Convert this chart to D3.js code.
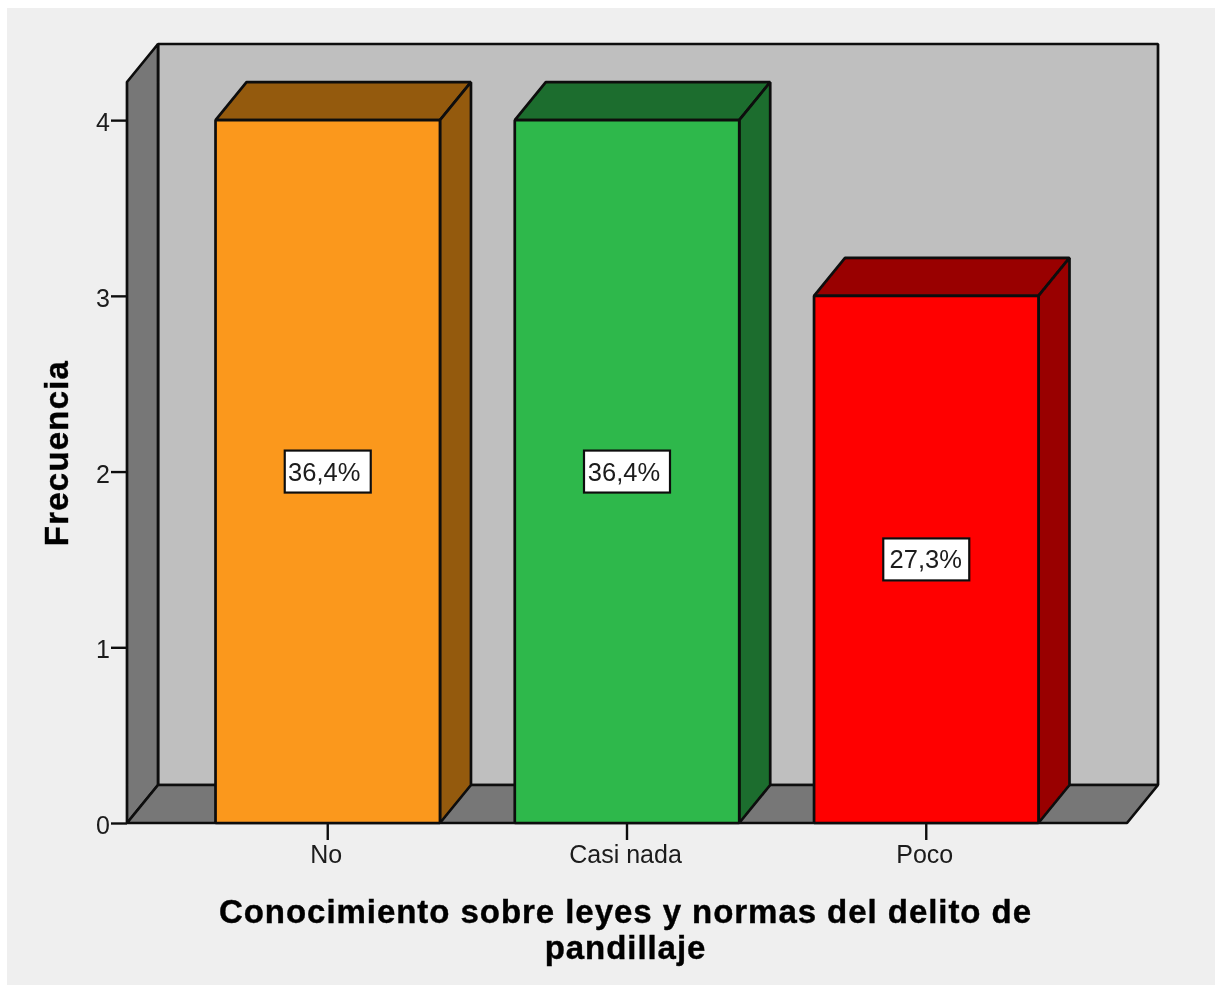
<!DOCTYPE html>
<html><head><meta charset="utf-8">
<style>html,body{margin:0;padding:0;background:#fff;overflow:hidden}svg{display:block}text{font-family:"Liberation Sans",Arial,sans-serif;fill:#1a1a1a}</style>
<script src="https://cdn.jsdelivr.net/npm/d3@7/dist/d3.min.js"></script>
</head><body><svg id="c" width="1215" height="985"></svg>
<script>
const categories = ["No", "Casi nada", "Poco"];
const frequencies = [4, 4, 3];
const percentLabels = ["36,4%", "36,4%", "27,3%"];
const labelShift = [-3.5, -3, -0.5];
const frontColors = ["#fb981f", "#2fb84b", "#ff0000"];
const sideColors = ["#945a11", "#1c6d2d", "#990000"];
const yTicks = [0, 1, 2, 3, 4];
const yTitle = "Frecuencia";
const xTitleLines = ["Conocimiento sobre leyes y normas del delito de", "pandillaje"];

const W = 1215, H = 985, dx = 31, dy = -38;
const x = d3.scaleBand().domain(categories).range([127, 1127]).paddingInner(0.25).paddingOuter(0.2958);
const y = d3.scaleLinear().domain([0, 4.217]).range([823, 82]);
const svg = d3.select("#c");
svg.append("defs").append("filter").attr("id", "soft").attr("x", 0).attr("y", 0).attr("width", 1).attr("height", 1)
  .append("feGaussianBlur").attr("stdDeviation", 0.7);
const root = svg.append("g").attr("filter", "url(#soft)");
root.append("rect").attr("width", W).attr("height", H).attr("fill", "#fff");
root.append("rect").attr("x", 7).attr("y", 8).attr("width", W - 7).attr("height", H - 8).attr("fill", "#efefef");

const [x0, x1] = x.range(), yb = y(0), yt = y.range()[1];
const poly = (pts, fill) => root.append("polygon").attr("points", pts.map(p => p.join(",")).join(" "))
  .attr("fill", fill).attr("stroke", "#0c0c0c").attr("stroke-width", 2.7).attr("stroke-linejoin", "bevel");
poly([[x0 + dx, yt + dy], [x1 + dx, yt + dy], [x1 + dx, yb + dy], [x0 + dx, yb + dy]], "#bfbfbf");
poly([[x0, yt], [x0 + dx, yt + dy], [x0 + dx, yb + dy], [x0, yb]], "#777777");
poly([[x0, yb], [x0 + dx, yb + dy], [x1 + dx, yb + dy], [x1, yb]], "#777777");

const yAxis = root.append("g").attr("transform", `translate(${x0},0)`).call(d3.axisLeft(y).tickValues(yTicks).tickFormat(d3.format("d")).tickSize(16).tickPadding(1));
yAxis.select(".domain").remove();
yAxis.selectAll("line").attr("stroke", "#111").attr("stroke-width", 2.4);
yAxis.selectAll("text").attr("font-size", 25).attr("dy", "0.42em");

categories.forEach((c, i) => {
  const l = x(c), r = l + x.bandwidth(), t = y(frequencies[i]);
  poly([[l, t], [l + dx, t + dy], [r + dx, t + dy], [r, t]], sideColors[i]);
  poly([[r, t], [r + dx, t + dy], [r + dx, yb + dy], [r, yb]], sideColors[i]);
  poly([[l, t], [r, t], [r, yb], [l, yb]], frontColors[i]);
});

const xAxis = root.append("g").attr("transform", `translate(0,${yb})`).call(d3.axisBottom(x).tickSize(17).tickPadding(5));
xAxis.select(".domain").remove();
xAxis.selectAll("line").attr("stroke", "#111").attr("stroke-width", 2.4);
xAxis.selectAll("text").attr("font-size", 25).attr("dx", -1.5);

categories.forEach((c, i) => {
  const cx = x(c) + x.bandwidth() / 2, cy = y(frequencies[i] / 2);
  root.append("rect").attr("x", cx - 43).attr("y", cy - 21).attr("width", 86).attr("height", 42)
    .attr("fill", "#fff").attr("stroke", "#111").attr("stroke-width", 2.2);
  root.append("text").attr("x", cx + labelShift[i]).attr("y", cy + 9).attr("text-anchor", "middle").attr("font-size", 25.5).text(percentLabels[i]);
});

root.append("text").attr("transform", "translate(68,453) rotate(-90)").attr("text-anchor", "middle")
  .attr("font-size", 33).attr("font-weight", "bold").attr("letter-spacing", 1.2).style("fill", "#000").attr("stroke", "#000").attr("stroke-width", 0.4).text(yTitle);
xTitleLines.forEach((t, i) => root.append("text").attr("x", 625.5).attr("y", 923 + i * 36).attr("text-anchor", "middle")
  .attr("font-size", 33).attr("font-weight", "bold").attr("letter-spacing", 0.95).style("fill", "#000").attr("stroke", "#000").attr("stroke-width", 0.4).text(t));
</script></body></html>
